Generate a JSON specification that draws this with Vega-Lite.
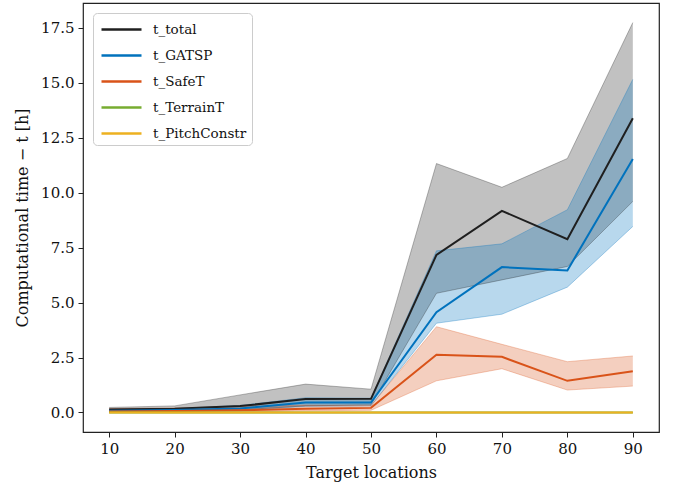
{
  "$schema": "https://vega.github.io/schema/vega-lite/v6.json",
  "autosize": {"type": "none"},
  "padding": {"left": 83, "top": 3, "right": 16, "bottom": 53},
  "width": 576,
  "height": 429,
  "background": "white",
  "config": {
    "view": {"stroke": "#222", "strokeWidth": 1.2},
    "font": "DejaVu Serif",
    "axis": {
      "grid": false,
      "domain": false,
      "tickColor": "#222",
      "tickSize": 5,
      "tickWidth": 1,
      "labelFont": "DejaVu Serif",
      "labelFontSize": 15,
      "labelColor": "#111",
      "titleFont": "DejaVu Serif",
      "titleFontSize": 16,
      "titleFontWeight": "normal",
      "titleColor": "#111",
      "labelPadding": 4
    }
  },
  "data": {
    "values": [
      {"x": 10, "series": "total", "mean": 0.14, "lo": 0.05, "hi": 0.23},
      {"x": 20, "series": "total", "mean": 0.17, "lo": 0.08, "hi": 0.30},
      {"x": 30, "series": "total", "mean": 0.29, "lo": 0.12, "hi": 0.80},
      {"x": 40, "series": "total", "mean": 0.61, "lo": 0.30, "hi": 1.29},
      {"x": 50, "series": "total", "mean": 0.62, "lo": 0.35, "hi": 1.06},
      {"x": 60, "series": "total", "mean": 7.17, "lo": 5.42, "hi": 11.32},
      {"x": 70, "series": "total", "mean": 9.17, "lo": 6.03, "hi": 10.24},
      {"x": 80, "series": "total", "mean": 7.88, "lo": 6.64, "hi": 11.55},
      {"x": 90, "series": "total", "mean": 13.38, "lo": 9.60, "hi": 17.73},
      {"x": 10, "series": "GATSP", "mean": 0.08, "lo": 0.03, "hi": 0.14},
      {"x": 20, "series": "GATSP", "mean": 0.11, "lo": 0.05, "hi": 0.18},
      {"x": 30, "series": "GATSP", "mean": 0.18, "lo": 0.08, "hi": 0.32},
      {"x": 40, "series": "GATSP", "mean": 0.45, "lo": 0.28, "hi": 0.67},
      {"x": 50, "series": "GATSP", "mean": 0.45, "lo": 0.30, "hi": 0.65},
      {"x": 60, "series": "GATSP", "mean": 4.56, "lo": 4.06, "hi": 7.35},
      {"x": 70, "series": "GATSP", "mean": 6.61, "lo": 4.47, "hi": 7.67},
      {"x": 80, "series": "GATSP", "mean": 6.46, "lo": 5.70, "hi": 9.22},
      {"x": 90, "series": "GATSP", "mean": 11.53, "lo": 8.46, "hi": 15.15},
      {"x": 10, "series": "SafeT", "mean": 0.05, "lo": 0.0, "hi": 0.18},
      {"x": 20, "series": "SafeT", "mean": 0.07, "lo": 0.0, "hi": 0.20},
      {"x": 30, "series": "SafeT", "mean": 0.10, "lo": 0.02, "hi": 0.28},
      {"x": 40, "series": "SafeT", "mean": 0.17, "lo": 0.08, "hi": 0.33},
      {"x": 50, "series": "SafeT", "mean": 0.21, "lo": 0.10, "hi": 0.32},
      {"x": 60, "series": "SafeT", "mean": 2.63, "lo": 1.44, "hi": 3.90},
      {"x": 70, "series": "SafeT", "mean": 2.53, "lo": 1.99, "hi": 3.10},
      {"x": 80, "series": "SafeT", "mean": 1.44, "lo": 1.02, "hi": 2.31},
      {"x": 90, "series": "SafeT", "mean": 1.88, "lo": 1.20, "hi": 2.57},
      {"x": 10, "series": "TerrainT", "mean": 0},
      {"x": 20, "series": "TerrainT", "mean": 0},
      {"x": 30, "series": "TerrainT", "mean": 0},
      {"x": 40, "series": "TerrainT", "mean": 0},
      {"x": 50, "series": "TerrainT", "mean": 0},
      {"x": 60, "series": "TerrainT", "mean": 0},
      {"x": 70, "series": "TerrainT", "mean": 0},
      {"x": 80, "series": "TerrainT", "mean": 0},
      {"x": 90, "series": "TerrainT", "mean": 0},
      {"x": 10, "series": "PitchConstr", "mean": 0},
      {"x": 20, "series": "PitchConstr", "mean": 0},
      {"x": 30, "series": "PitchConstr", "mean": 0},
      {"x": 40, "series": "PitchConstr", "mean": 0},
      {"x": 50, "series": "PitchConstr", "mean": 0},
      {"x": 60, "series": "PitchConstr", "mean": 0},
      {"x": 70, "series": "PitchConstr", "mean": 0},
      {"x": 80, "series": "PitchConstr", "mean": 0},
      {"x": 90, "series": "PitchConstr", "mean": 0}
    ]
  },
  "encoding": {
    "x": {
      "field": "x", "type": "quantitative",
      "scale": {"domain": [6, 94], "nice": false, "zero": false},
      "axis": {"values": [10, 20, 30, 40, 50, 60, 70, 80, 90], "title": "Target locations", "titlePadding": 8}
    }
  },
  "layer": [
    {
      "transform": [{"filter": "datum.hi != null"}],
      "mark": {"type": "area", "orient": "vertical", "fillOpacity": 0.28},
      "encoding": {
        "y": {"field": "lo", "type": "quantitative"},
        "y2": {"field": "hi"},
        "color": {"field": "series", "type": "nominal"}
      }
    },
    {
      "transform": [{"filter": "datum.hi != null"}],
      "mark": {"type": "line", "strokeOpacity": 0.3, "strokeWidth": 1},
      "encoding": {
        "y": {"field": "lo", "type": "quantitative"},
        "color": {"field": "series", "type": "nominal"}
      }
    },
    {
      "transform": [{"filter": "datum.hi != null"}],
      "mark": {"type": "line", "strokeOpacity": 0.3, "strokeWidth": 1},
      "encoding": {
        "y": {"field": "hi", "type": "quantitative"},
        "color": {"field": "series", "type": "nominal"}
      }
    },
    {
      "mark": {"type": "line", "strokeWidth": 2},
      "encoding": {
        "y": {
          "field": "mean", "type": "quantitative",
          "scale": {"domain": [-0.887, 18.62], "nice": false, "zero": false},
          "axis": {"values": [0, 2.5, 5, 7.5, 10, 12.5, 15, 17.5], "format": ".1f", "title": "Computational time \u2212 t [h]", "titlePadding": 10}
        },
        "color": {
          "field": "series", "type": "nominal",
          "scale": {"domain": ["total", "GATSP", "SafeT", "TerrainT", "PitchConstr"], "range": ["#1f1f1f", "#0072BD", "#D95319", "#77AC30", "#EDB120"]},
          "legend": {
            "orient": "top-left",
            "offset": 10,
            "title": null,
            "labelExpr": "'t_' + datum.label",
            "symbolType": "M-2,0H2",
            "symbolSize": 400,
            "symbolStrokeWidth": 2.5,
            "symbolOffset": 12,
            "labelFont": "DejaVu Serif",
            "labelFontSize": 13.5,
            "labelColor": "#111",
            "labelOffset": 20,
            "rowPadding": 8,
            "padding": 5,
            "fillColor": "white",
            "strokeColor": "#cccccc",
            "cornerRadius": 4,
            "encode": {
              "symbols": {"update": {"opacity": {"value": 1}, "strokeOpacity": {"value": 1}, "fillOpacity": {"value": 0}}}
            }
          }
        }
      }
    }
  ]
}
